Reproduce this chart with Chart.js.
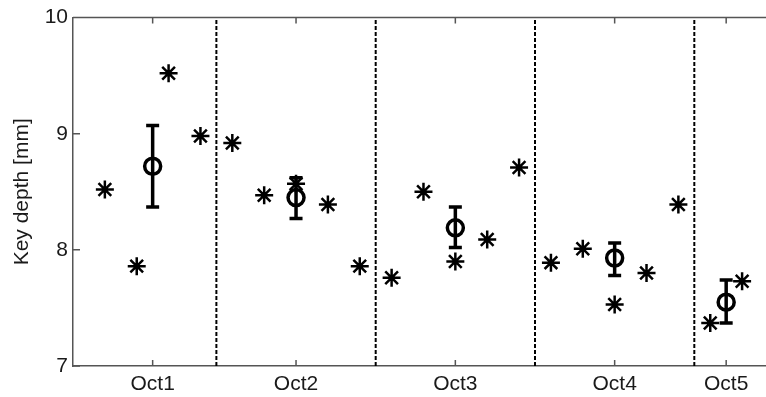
<!DOCTYPE html>
<html lang="en">
<head>
    <meta charset="UTF-8">
    <title>Key depth per octave</title>
    <style>
        html, body {
            margin: 0;
            padding: 0;
            background: #ffffff;
            overflow: hidden;
        }
        #chart {
            display: block;
        }
    </style>
    <script src="https://cdn.jsdelivr.net/npm/chart.js"></script>
</head>
<body>
    <canvas id="chart" width="766" height="397"></canvas>

    <script>
        // octave groups and where their labels sit on the x axis
        const categories = ['Oct1', 'Oct2', 'Oct3', 'Oct4', 'Oct5'];
        const categoryPos = [2.5, 7, 12, 17, 20.5];
        const boundaries = [4.5, 9.5, 14.5, 19.5];

        // individual key depths (asterisks)
        const sampleX = [1, 2, 3, 4, 5, 6, 7, 8, 9, 10, 11, 12, 13, 14, 15, 16, 17, 18, 19, 20, 21];
        const sampleDepth = [8.52, 7.86, 9.52, 8.98,
                             8.92, 8.47, 8.57, 8.39, 7.86,
                             7.76, 8.50, 7.90, 8.09, 8.71,
                             7.89, 8.01, 7.53, 7.80, 8.39,
                             7.37, 7.73];

        // mean and error range per octave (circles with bars)
        const meanDepth = [8.72, 8.45, 8.19, 7.93, 7.55];
        const errLow = [8.37, 8.27, 8.02, 7.78, 7.37];
        const errHigh = [9.07, 8.62, 8.37, 8.06, 7.74];

        const yTicks = [7, 8, 9, 10];
        const yMin = 7, yMax = 10;
        const xMin = 0, xMax = 21.75;

        const axisColor = '#555555';
        const textColor = '#1a1a1a';
        const font = { family: 'Arial, "Liberation Sans", sans-serif', size: 21 };

        // dashed separators drawn as two-point line datasets
        const boundarySets = boundaries.map(b => ({
            type: 'line',
            data: [{ x: b, y: yMin }, { x: b, y: yMax }],
            borderColor: '#000000',
            borderWidth: 2,
            borderDash: [4, 2],
            pointRadius: 0,
            showLine: true,
            fill: false,
            tension: 0
        }));

        const errorBars = {
            id: 'errorBars',
            afterDatasetsDraw(chart) {
                const ctx = chart.ctx;
                const xs = chart.scales.x, ys = chart.scales.y;
                ctx.save();
                ctx.strokeStyle = '#000000';
                ctx.lineWidth = 3.5;
                ctx.lineCap = 'butt';
                for (let i = 0; i < categoryPos.length; i++) {
                    const px = xs.getPixelForValue(categoryPos[i]);
                    const top = ys.getPixelForValue(errHigh[i]);
                    const bot = ys.getPixelForValue(errLow[i]);
                    ctx.beginPath();
                    ctx.moveTo(px, top);
                    ctx.lineTo(px, bot);
                    ctx.moveTo(px - 6.5, top);
                    ctx.lineTo(px + 6.5, top);
                    ctx.moveTo(px - 6.5, bot);
                    ctx.lineTo(px + 6.5, bot);
                    ctx.stroke();
                }
                ctx.restore();
            }
        };

        // MATLAB style frame: inward tick marks and a top border
        const frame = {
            id: 'frame',
            afterDraw(chart) {
                const ctx = chart.ctx;
                const area = chart.chartArea;
                const xs = chart.scales.x, ys = chart.scales.y;
                ctx.save();
                ctx.strokeStyle = axisColor;
                ctx.lineWidth = 1.5;
                ctx.beginPath();
                ctx.moveTo(area.left, area.top);
                ctx.lineTo(area.right, area.top);
                yTicks.forEach(v => {
                    const py = ys.getPixelForValue(v);
                    ctx.moveTo(area.left, py);
                    ctx.lineTo(area.left + 7, py);
                });
                categoryPos.forEach(v => {
                    const px = xs.getPixelForValue(v);
                    ctx.moveTo(px, area.bottom);
                    ctx.lineTo(px, area.bottom - 6);
                    ctx.moveTo(px, area.top);
                    ctx.lineTo(px, area.top + 6);
                });
                ctx.stroke();
                ctx.restore();
            }
        };

        new Chart(document.getElementById('chart').getContext('2d'), {
            type: 'scatter',
            data: {
                datasets: [
                    ...boundarySets,
                    {
                        label: 'Keys',
                        data: sampleX.map((x, i) => ({ x: x, y: sampleDepth[i] })),
                        pointStyle: 'star',
                        pointRadius: 9,
                        borderColor: '#000000',
                        backgroundColor: '#000000',
                        borderWidth: 2.5
                    },
                    {
                        label: 'Mean',
                        data: categoryPos.map((x, i) => ({ x: x, y: meanDepth[i] })),
                        pointStyle: 'circle',
                        pointRadius: 8,
                        borderColor: '#000000',
                        backgroundColor: 'rgba(0,0,0,0)',
                        borderWidth: 3.5
                    }
                ]
            },
            options: {
                responsive: false,
                animation: false,
                layout: {
                    autoPadding: false,
                    padding: { top: 16, right: 0, bottom: 1, left: 0 }
                },
                plugins: {
                    legend: { display: false },
                    tooltip: { enabled: false }
                },
                scales: {
                    x: {
                        type: 'linear',
                        min: xMin,
                        max: xMax,
                        afterBuildTicks: scale => {
                            scale.ticks = categoryPos.map(v => ({ value: v }));
                        },
                        afterFit: scale => {
                            scale.height = 30;
                            scale.paddingRight = 0;
                            scale.paddingLeft = 0;
                        },
                        ticks: {
                            autoSkip: false,
                            maxRotation: 0,
                            padding: 6,
                            color: textColor,
                            font: font,
                            callback: value => categories[categoryPos.indexOf(value)]
                        },
                        grid: { drawOnChartArea: false, drawTicks: false },
                        border: { display: true, color: axisColor, width: 1.5 }
                    },
                    y: {
                        min: yMin,
                        max: yMax,
                        afterBuildTicks: scale => {
                            scale.ticks = yTicks.map(v => ({ value: v }));
                        },
                        afterFit: scale => { scale.width = 73; },
                        ticks: {
                            padding: 5,
                            color: textColor,
                            font: font
                        },
                        grid: { drawOnChartArea: false, drawTicks: false },
                        border: { display: true, color: axisColor, width: 1.5 },
                        title: {
                            display: true,
                            text: 'Key depth [mm]',
                            color: textColor,
                            font: font,
                            padding: { top: 10, bottom: 0 }
                        }
                    }
                }
            },
            plugins: [errorBars, frame]
        });
    </script>
</body>
</html>
